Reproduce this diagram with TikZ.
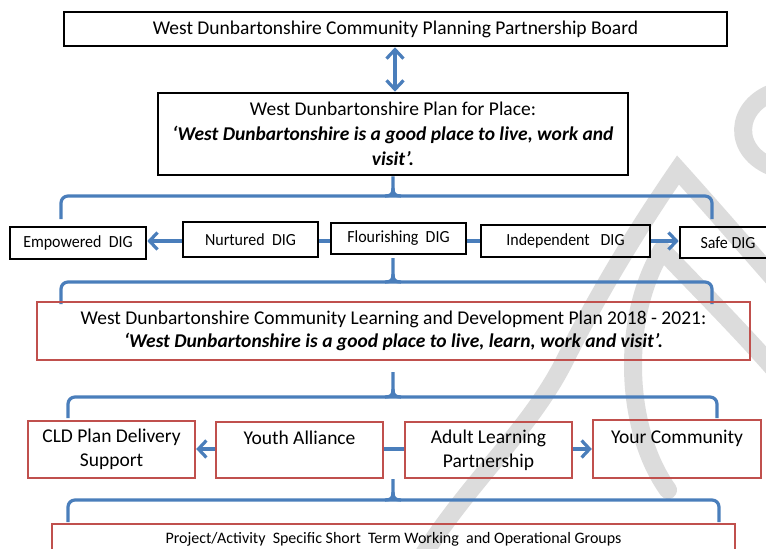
\documentclass[tikz,border=0pt]{standalone}
\usepackage{fontspec}
\setmainfont{Carlito}
\newfontfamily\digfont{Carlito}[FakeStretch=0.94]
\usetikzlibrary{arrows.meta}
\definecolor{cblue}{HTML}{4A7EBB}
\definecolor{cred}{HTML}{C0504D}
\definecolor{wgrey}{HTML}{DCDCDC}
\tikzset{
  blackbox/.style={draw=black, line width=2.6pt, inner sep=0pt, align=center,
    font=\digfont\fontsize{17}{20}\selectfont},
  redbox/.style={draw=cred, line width=2.4pt, inner sep=0pt, align=center,
    font=\fontsize{19.5}{24}\selectfont},
  conn/.style={draw=cblue, line width=3.2pt},
  brace/.style={conn, rounded corners=7pt},
  tip/.style={-{Straight Barb[length=8pt,width=17pt]}},
  wmark/.style={draw=wgrey, line width=18pt, line cap=round},
}
\begin{document}
\begin{tikzpicture}[x=1pt,y=-1pt]
\clip (0,0) rectangle (766,549);
\fill[white] (0,0) rectangle (766,549);
% watermark
\draw[wmark] (775,92) .. controls (735,105) and (730,152) .. (775,168);
\draw[wmark] (775,280) .. controls (740,240) and (705,200) .. (678,170) .. controls (640,225) and (600,290) .. (565,360) .. controls (530,430) and (470,480) .. (420,560);
\draw[wmark] (662,250) .. controls (620,320) and (625,430) .. (668,490);
\draw[wmark] (662,250) .. controls (700,290) and (740,330) .. (775,370);
% top boxes
\node[blackbox, font=\fontsize{19.5}{24}\selectfont, minimum width=663, minimum height=34] (board) at (395.5,29) {West Dunbartonshire Community Planning Partnership Board};
\node[blackbox, font=\fontsize{19.5}{25}\selectfont, minimum width=470, minimum height=82] (place) at (393,134) {West Dunbartonshire Plan for Place:\\ \textbf{\textit{‘West Dunbartonshire is a good place to live, work and}}\\ \textbf{\textit{visit’.}}};
\draw[conn, {Straight Barb[length=9pt,width=17pt]}-{Straight Barb[length=9pt,width=17pt]}] (board.south -| 395,0) -- (place.north -| 395,0);
% brace 1
\coordinate (b1l) at (61,219);
\coordinate (b1r) at (712,219);
\draw[brace] (b1l) -- (61,196) -- (712,196) -- (b1r);
\draw[conn] (385,196) .. controls (391,196) and (393,194) .. (393,188) -- (place.south);
\draw[conn] (401,196) .. controls (395,196) and (393,194) .. (393,188);
% DIG row
\node[blackbox, minimum width=136, minimum height=32] (emp) at (78,243) {Empowered\ \ DIG};
\node[blackbox, minimum width=135, minimum height=35] (nur) at (250.5,239.5) {Nurtured\ \ DIG};
\node[blackbox, minimum width=135, minimum height=31] (flo) at (398.5,238.5) {Flourishing\ \ DIG};
\node[blackbox, minimum width=169, minimum height=32] (ind) at (565.5,241) {Independent\ \ \ DIG};
\node[blackbox, minimum width=96, minimum height=31] (safe) at (728,242.5) {Safe DIG};
\draw[conn, tip] (nur.west |- 0,241) -- (emp.east |- 0,241);
\draw[conn] (nur.east |- 0,241) -- (flo.west |- 0,241);
\draw[conn] (flo.east |- 0,241) -- (ind.west |- 0,241);
\draw[conn, tip] (ind.east |- 0,241) -- (safe.west |- 0,241);
% brace 2
\coordinate (b2t) at (393,258);
\draw[brace] (61,304) -- (61,282) -- (712,282) -- (712,304);
\draw[conn] (385,282) .. controls (391,282) and (393,280) .. (393,274) -- (b2t);
\draw[conn] (401,282) .. controls (395,282) and (393,280) .. (393,274);
% CLD plan
\node[redbox, minimum width=713, minimum height=58, font=\fontsize{19.5}{23}\selectfont] (cld) at (393.5,331) {West Dunbartonshire Community Learning and Development Plan 2018 - 2021:\\ \textbf{\textit{‘West Dunbartonshire is a good place to live, learn, work and visit’.}}};
% brace 3
\coordinate (b3t) at (393,372);
\draw[brace] (68,418) -- (68,397) -- (717,397) -- (717,418);
\draw[conn] (385,397) .. controls (391,397) and (393,395) .. (393,389) -- (b3t);
\draw[conn] (401,397) .. controls (395,397) and (393,395) .. (393,389);
% row 3
\node[redbox, minimum width=167, minimum height=57] (sup) at (111.5,449.5) {CLD Plan Delivery\\ Support};
\node[redbox, minimum width=167, minimum height=56] (youth) at (299.5,450) {Youth Alliance\\ \mbox{}};
\node[redbox, minimum width=167, minimum height=56] (adult) at (488.5,450) {Adult Learning\\ Partnership};
\node[redbox, minimum width=168, minimum height=58] (your) at (677,449) {Your Community\\ \mbox{}};
\draw[conn, tip] (youth.west |- 0,449) -- (sup.east |- 0,449);
\draw[conn] (youth.east |- 0,449) -- (adult.west |- 0,449);
\draw[conn, tip] (adult.east |- 0,449) -- (your.west |- 0,449);
% brace 4
\coordinate (b4t) at (393,479);
\draw[brace] (68,522) -- (68,500) -- (719,500) -- (719,522);
\draw[conn] (385,500) .. controls (391,500) and (393,498) .. (393,492) -- (b4t);
\draw[conn] (401,500) .. controls (395,500) and (393,498) .. (393,492);
% bottom box
\node[redbox, anchor=north, minimum width=683, minimum height=30, font=\fontsize{16}{18}\selectfont] (groups) at (393.5,523) {Project/Activity\ \ Specific Short\ \ Term Working\ \ and Operational Groups};
\end{tikzpicture}
\end{document}
